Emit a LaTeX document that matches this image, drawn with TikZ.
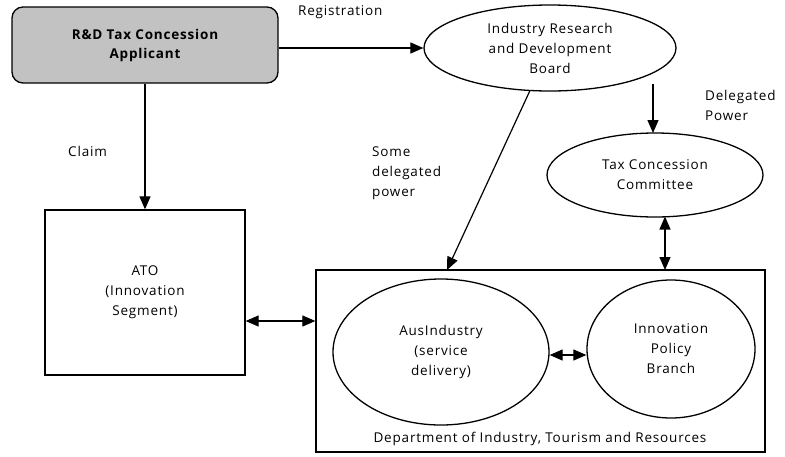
\documentclass[tikz,border=0pt]{standalone}
\usepackage{fontspec}
\setmainfont{Open Sans}[LetterSpace=6]
\usetikzlibrary{shapes.geometric,arrows.meta}
\begin{document}
\begin{tikzpicture}[x=1pt,y=-1pt,
  font=\fontsize{13.5}{20}\selectfont,
  every node/.style={inner sep=0pt},
  edge/.style={line width=1.2pt},
  tip/.tip={Triangle[length=13pt,width=11pt]},
  arr/.style={edge,-tip},
  darr/.style={edge,tip-tip},
  oval/.style={draw,ellipse,line width=1.3pt,align=center},
  boxed/.style={draw,rectangle,line width=1.3pt,align=center},
  lbl/.style={align=left,anchor=north west}]
\useasboundingbox (0,0) rectangle (785,456);
% nodes
\node[boxed,rounded corners=11pt,fill=black!24,minimum width=266pt,minimum height=76pt,
  font=\fontsize{13.5}{19}\selectfont\bfseries] (app) at (145,45) {R\&D Tax Concession\\Applicant};
\node[boxed,minimum width=200pt,minimum height=165pt] (ato) at (145,292.5) {ATO\\(Innovation\\Segment)};
\node[boxed,minimum width=449pt,minimum height=182pt] (dept) at (540.5,361) {};
\node[anchor=south] (deptl) at (540,446) {Department of Industry, Tourism and Resources};
\node[oval,minimum width=252pt,minimum height=86pt] (irdb) at (550,48) {Industry Research\\and Development\\Board};
\node[oval,minimum width=216pt,minimum height=84pt] (tcc) at (655,175) {Tax Concession\\Committee};
\node[oval,minimum width=216pt,minimum height=146pt] (aus) at (441,352) {AusIndustry\\(service\\delivery)};
\node[oval,minimum width=168pt,minimum height=138pt] (ipb) at (671,349) {Innovation\\Policy\\Branch};
% labels
\node[lbl] (lreg) at (298,5) {Registration};
\node[lbl] (lclaim) at (68,146) {Claim};
\node[lbl] (ldel) at (705,90) {Delegated\\Power};
\node[lbl] (lsome) at (372,147) {Some\\delegated\\power};
% coordinates
\coordinate (ipbtop) at (665,270);
\coordinate (tccb) at (665,216.5);
\coordinate (irdbb) at (653,84);
\coordinate (tcct) at (653,133);
\coordinate (irdbs) at (530,90.5);
\coordinate (austop) at (447,270);
% connectors
\draw[arr] (app.east |- irdb.west) -- (irdb.west);
\draw[arr] (app.south) -- (ato.north);
\draw[darr] (ato.east |- 0,321) -- (dept.west |- 0,321);
\draw[arr] (irdbb) -- (tcct);
\draw[arr] (irdbs) -- (austop);
\draw[darr] (tccb) -- (ipbtop);
\draw[darr] (aus.east |- 0,355) -- (ipb.west |- 0,355);
\end{tikzpicture}
\end{document}
